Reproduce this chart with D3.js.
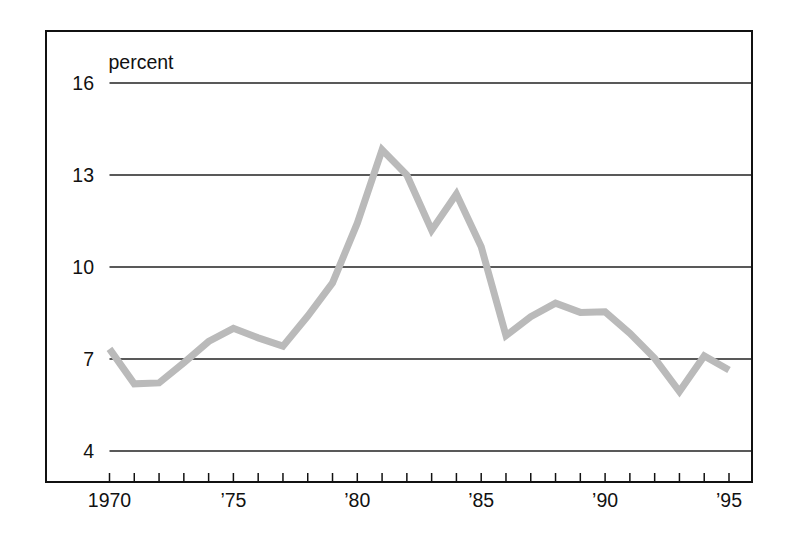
<!DOCTYPE html>
<html>
<head>
<meta charset="utf-8">
<script src="https://cdn.jsdelivr.net/npm/d3@7"></script>
<style>
  html, body { margin: 0; padding: 0; background: #fff; }
  svg { display: block; }
  text { font-family: "Liberation Sans", Arial, sans-serif; fill: #111; }
</style>
</head>
<body>
<svg id="chart" width="800" height="536"></svg>
<script>
const years = [1970,1971,1972,1973,1974,1975,1976,1977,1978,1979,1980,1981,1982,1983,1984,1985,1986,1987,1988,1989,1990,1991,1992,1993,1994,1995];
const values = [7.33,6.19,6.22,6.88,7.57,8.0,7.69,7.42,8.4,9.48,11.43,13.82,13.0,11.2,12.38,10.66,7.76,8.38,8.82,8.52,8.54,7.84,7.02,5.94,7.1,6.64];
const yTicks = [4,7,10,13,16];
const xLabelYears = [1970,1975,1980,1985,1990,1995];
const xLabels = ["1970","\u201975","\u201980","\u201985","\u201990","\u201995"];
const yAxisTitle = "percent";

const svg = d3.select("#chart");
const frame = {left: 46, top: 31, right: 752, bottom: 482};
const fs = 19.5;

const x = d3.scaleLinear().domain([1970, 1995]).range([109.5, 729]);
const y = d3.scaleLinear().domain([4, 16]).range([451, 83]);

// gridlines
svg.append("g").selectAll("line").data(yTicks).join("line")
  .attr("x1", x(1970)).attr("x2", frame.right)
  .attr("y1", d => y(d)).attr("y2", d => y(d))
  .attr("stroke", "#222").attr("stroke-width", 1.3);

// y labels
svg.append("g").selectAll("text").data(yTicks).join("text")
  .attr("x", 94).attr("y", d => y(d) + 6.5)
  .attr("text-anchor", "end").attr("font-size", fs)
  .text(d => d);

svg.append("text").attr("x", 108.5).attr("y", 68.5)
  .attr("font-size", fs).text(yAxisTitle);

// x ticks (upward)
svg.append("g").selectAll("line").data(years).join("line")
  .attr("x1", d => x(d)).attr("x2", d => x(d))
  .attr("y1", frame.bottom).attr("y2", frame.bottom - 9)
  .attr("stroke", "#111").attr("stroke-width", 1.5);

svg.append("g").selectAll("text").data(xLabelYears).join("text")
  .attr("x", d => x(d)).attr("y", 506.5)
  .attr("text-anchor", "middle").attr("font-size", fs)
  .text((d, i) => xLabels[i]);

// line
const line = d3.line().x((d, i) => x(years[i])).y(d => y(d));
svg.append("path").datum(values)
  .attr("d", line).attr("fill", "none")
  .attr("stroke", "#bababa").attr("stroke-width", 7)
  .attr("stroke-linejoin", "miter");

// frame: left, top, right borders and bottom axis
svg.append("rect")
  .attr("x", frame.left).attr("y", frame.top)
  .attr("width", frame.right - frame.left).attr("height", frame.bottom - frame.top)
  .attr("fill", "none").attr("stroke", "#111").attr("stroke-width", 2);
</script>
</body>
</html>
